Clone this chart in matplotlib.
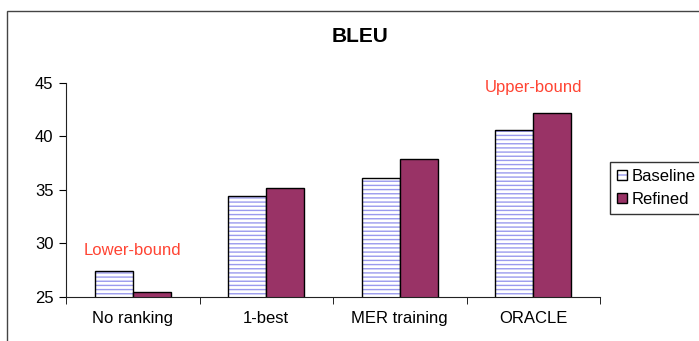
import numpy as np
import matplotlib.pyplot as plt
from matplotlib.patches import Rectangle
from matplotlib.legend_handler import HandlerTuple

plt.rcParams['font.family'] = ['Liberation Sans', 'DejaVu Sans']
plt.rcParams['hatch.linewidth'] = 1.0

# BLEU scores per ranking setup
categories = ["No ranking", "1-best", "MER training", "ORACLE"]
baseline = [27.4, 34.4, 36.1, 40.6]
refined = [25.5, 35.15, 37.9, 42.2]

fig = plt.figure(figsize=(6.99, 3.41), dpi=100)

# outer chart frame
fig.patches.append(Rectangle((7 / 699, -0.1), 1.1, 1 - 11 / 341 + 0.1,
                             transform=fig.transFigure, fill=False,
                             edgecolor='#444444', linewidth=1.0))

ax = fig.add_axes([66 / 699, 1 - 297 / 341, 534 / 699, 214 / 341])

x = np.arange(len(categories))
w = 0.285
hatch_col = '#9a9aee'
# hatch takes the edge colour, so draw the stripes first and the black outline on top
ax.bar(x - w / 2, baseline, w, color='white', edgecolor=hatch_col,
       hatch='----', linewidth=0)
b1 = ax.bar(x - w / 2, baseline, w, fill=False, edgecolor='black', linewidth=1.0)
b2 = ax.bar(x + w / 2, refined, w, color='#993366', edgecolor='black',
            linewidth=1.0, label='Refined')

ax.set_ylim(25, 45)
ax.set_xlim(-0.5, len(categories) - 0.5)
ax.set_yticks([25, 30, 35, 40, 45])
ax.set_xticks(x)
ax.set_xticklabels(categories, fontsize=12)
ax.tick_params(axis='y', labelsize=12, length=5, direction='out', pad=4)
ax.tick_params(axis='x', length=0, pad=10)
# category separators on the x axis
ax.set_xticks(np.arange(len(categories) + 1) - 0.5, minor=True)
ax.tick_params(axis='x', which='minor', length=5, direction='out')
for s in ['top', 'right']:
    ax.spines[s].set_visible(False)
for s in ['left', 'bottom']:
    ax.spines[s].set_color('#222222')

ax.text(0.0, 29.3, "Lower-bound", color='#ff4433', fontsize=12, ha='center', va='center')
ax.text(3.0, 44.6, "Upper-bound", color='#ff4433', fontsize=12, ha='center', va='center')

fig.text(360 / 699, 1 - 37 / 341, "BLEU", fontsize=15, fontweight='bold',
         ha='center', va='center')

# legend swatch for baseline: stripes with a black outline
h_stripes = Rectangle((0, 0), 1, 1, facecolor='white', edgecolor=hatch_col,
                      hatch='---', linewidth=0)
h_outline = Rectangle((0, 0), 1, 1, fill=False, edgecolor='black', linewidth=1.0)
leg = fig.legend(handles=[(h_stripes, h_outline), b2], labels=['Baseline', 'Refined'],
                 handler_map={tuple: HandlerTuple(ndivide=1)},
                 loc='upper left', bbox_to_anchor=(610 / 699, 1 - 162 / 341),
                 fontsize=12, frameon=True, fancybox=False, handlelength=0.6,
                 handleheight=0.6, handletextpad=0.3, borderpad=0.4,
                 labelspacing=0.5, borderaxespad=0)
leg.get_frame().set_edgecolor('black')
leg.get_frame().set_linewidth(1.0)

fig.savefig('out.png', dpi=100)
